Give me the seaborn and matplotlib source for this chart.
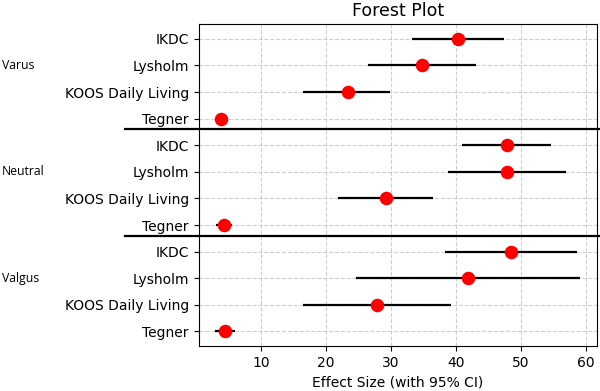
import matplotlib
matplotlib.use("Agg")
import matplotlib.pyplot as plt
import pandas as pd
import seaborn as sns

# Values
groups = ["Varus", "Neutral", "Valgus"]
outcomes = ["IKDC", "Lysholm", "KOOS Daily Living", "Tegner"]

varus_effect = [40.4, 34.8, 23.3, 3.8]
varus_lower = [33.3, 26.4, 16.5, 3.5]
varus_upper = [47.4, 43.1, 29.9, 4.2]

neutral_effect = [47.8, 47.9, 29.2, 4.3]
neutral_lower = [41.0, 38.8, 21.9, 3.1]
neutral_upper = [54.6, 57.0, 36.4, 5.5]

valgus_effect = [48.5, 41.8, 27.9, 4.45]
valgus_lower = [38.3, 24.6, 16.5, 2.9]
valgus_upper = [58.7, 59.2, 39.2, 5.9]

# Build one long table
df = pd.DataFrame({
    "group": [g for g in groups for _ in outcomes],
    "outcome": outcomes * len(groups),
    "effect": varus_effect + neutral_effect + valgus_effect,
    "lower": varus_lower + neutral_lower + valgus_lower,
    "upper": varus_upper + neutral_upper + valgus_upper,
})
df["row"] = range(len(df))

fig, ax = plt.subplots(figsize=(6, 3.91), dpi=100)
fig.subplots_adjust(left=0.331, right=0.9945, top=0.938, bottom=0.115)

# Confidence intervals
ax.hlines(df["row"], df["lower"], df["upper"], color="black", linewidth=1.6, zorder=2)
# Point estimates
sns.scatterplot(data=df, x="effect", y="row", color="red", s=95,
                edgecolor="red", linewidth=0, zorder=3, ax=ax, legend=False)

ax.set_xlim(0.35, 61.7)
ax.set_yticks(df["row"])
ax.set_yticklabels(df["outcome"], fontsize=10)
ax.invert_yaxis()
ax.tick_params(axis="x", labelsize=10)
ax.set_xlabel("Effect Size (with 95% CI)", fontsize=10)
ax.set_ylabel("")
ax.set_title("Forest Plot", fontsize=12.5)
ax.grid(True, linestyle="--", color="#b0b0b0", alpha=0.6, linewidth=0.8)
ax.set_axisbelow(True)

# Separators between groups and group labels
for i in range(1, len(groups)):
    ax.axhline(i * len(outcomes) - 0.6, xmin=-0.185, xmax=1.02, color="black",
               linewidth=1.6, clip_on=False, zorder=4)
for i, g in enumerate(groups):
    ax.text(-0.495, i * len(outcomes) + 1, g, transform=ax.get_yaxis_transform(),
            fontsize=8.8, family=["Open Sans", "DejaVu Sans"], va="center", ha="left")

fig.savefig("out.png", dpi=100)
